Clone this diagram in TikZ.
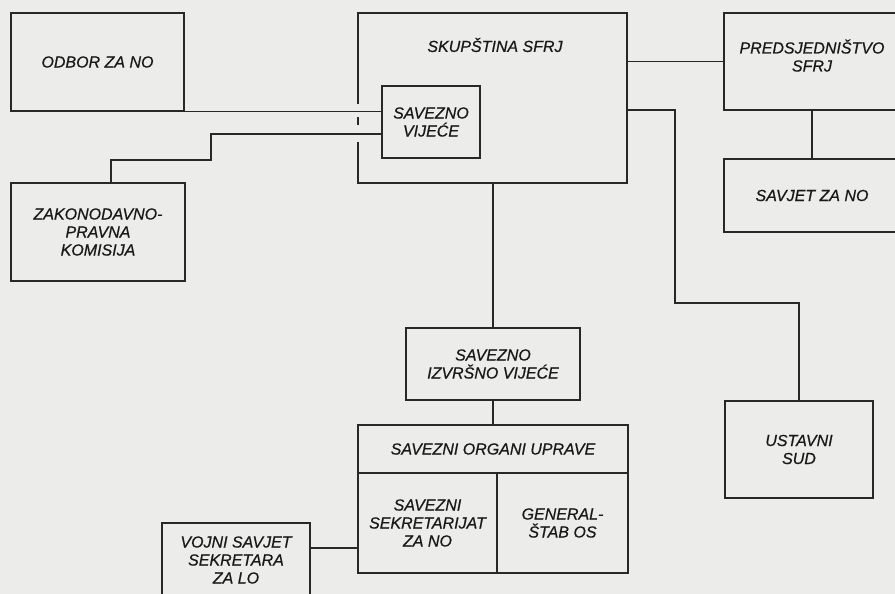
\documentclass[tikz,border=0pt]{standalone}
\usepackage{fontspec}
\setmainfont{Liberation Sans}[ItalicFeatures={FakeBold=0.6}]
\usepackage{tikz}
\usetikzlibrary{positioning, calc}
\definecolor{paper}{RGB}{236,236,235}
\definecolor{ink}  {RGB}{40,40,40}
\definecolor{type} {RGB}{25,25,25}

\begin{document}
\begin{tikzpicture}[x=1pt,y=-1pt,
	box/.style={rectangle, draw=ink, line width=1.1pt, fill=paper, inner sep=0pt,
		align=center, text=type, font=\fontsize{16}{18}\selectfont\itshape},
	txt/.style={inner sep=0pt, align=center, text=type, font=\fontsize{16}{18}\selectfont\itshape},
	link/.style={draw=ink, line width=1.1pt}]
	\fill[paper] (0,0) rectangle (895,594);
	\useasboundingbox (0,0) rectangle (895,594);

	\node[box, minimum width=269pt, minimum height=170pt] (skup) at (492.5,98) {};
	\node[txt] (skuptitle) at (495,45) {SKUPŠTINA SFRJ};
	\fill[paper] (355,104) rectangle (361,142);
	\draw[link] (358,117) -- (358,125);

	\node[box, minimum width=173pt, minimum height=98pt] (odbor) at (97.5,62) {ODBOR ZA NO};
	\node[box, minimum width=174pt, minimum height=98pt] (zakon) at (98,232) {ZAKONODAVNO-\\PRAVNA\\KOMISIJA};
	\node[box, minimum width=98pt, minimum height=72pt] (vijece) at (431,122) {SAVEZNO\\VIJEĆE};
	\node[box, minimum width=176pt, minimum height=97pt] (predsj) at (812,61.5) {PREDSJEDNIŠTVO\\SFRJ\\[-6pt]};
	\node[box, minimum width=176pt, minimum height=73pt] (savjet) at (812,195.5) {SAVJET ZA NO};
	\node[box, minimum width=148pt, minimum height=97pt] (ustavni) at (799,449.5) {USTAVNI\\SUD};
	\node[box, minimum width=174pt, minimum height=72pt] (siv) at (493,364) {SAVEZNO\\IZVRŠNO VIJEĆE};
	\node[box, minimum width=270pt, minimum height=48pt] (organi) at (493,449) {SAVEZNI ORGANI UPRAVE};
	\node[box, minimum width=139pt, minimum height=100pt] (sekretarijat) at (427.5,523) {SAVEZNI\\SEKRETARIJAT\\ZA NO};
	\node[box, minimum width=131pt, minimum height=100pt] (stab) at (562.5,523) {GENERAL-\\ŠTAB OS};
	\node[box, minimum width=148pt, minimum height=74pt] (vojni) at (236,560) {VOJNI SAVJET\\SEKRETARA\\ZA LO};

	\draw[link] (odbor.south east) -- (odbor.south east -| vijece.west);
	\draw[link] ([xshift=13pt]zakon.north) |- (211,160) |- (vijece.west |- 0,134);
	\draw[link] (predsj.west) -- (predsj.west -| skup.east);
	\draw[link] (predsj.south) -- (savjet.north);
	\draw[link] (skup.east |- 0,110) -| (675,303) -| (ustavni.north);
	\draw[link] (siv.north) -- (siv.north |- skup.south);
	\draw[link] (siv.south) -- (organi.north);
	\draw[link] (vojni.east |- 0,548) -- (sekretarijat.west |- 0,548);
\end{tikzpicture}
\end{document}
